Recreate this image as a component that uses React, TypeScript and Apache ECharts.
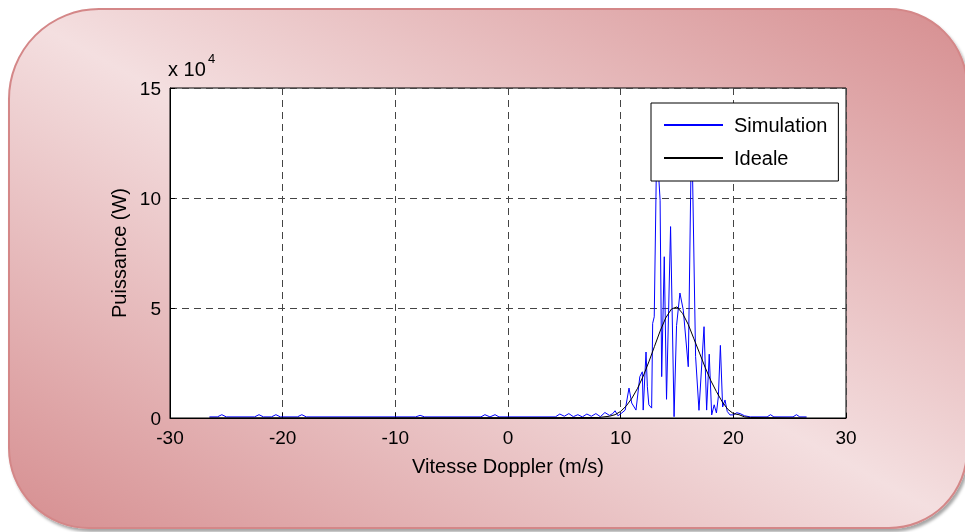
import React, { useEffect, useRef } from "react";
import * as echarts from "echarts";

// Doppler velocity (m/s) vs power (x 10^4 W)
const simulationPoints: [number, number][] = [
  [-26.5, 0.05], [-25.8, 0.05], [-25.4, 0.15], [-25.0, 0.05], [-22.5, 0.05], [-22.1, 0.15],
  [-21.7, 0.05], [-21.0, 0.05], [-20.6, 0.15], [-20.2, 0.05], [-18.7, 0.05], [-18.3, 0.15],
  [-17.9, 0.05], [-8.2, 0.05], [-7.8, 0.12], [-7.4, 0.05], [-2.4, 0.05], [-2.05, 0.15],
  [-1.6, 0.05], [-1.15, 0.15], [-0.8, 0.05], [4.2, 0.05], [4.6, 0.18], [5.0, 0.08],
  [5.4, 0.2], [5.8, 0.06], [6.2, 0.15], [6.6, 0.05], [7.0, 0.18], [7.4, 0.08], [7.8, 0.2],
  [8.2, 0.06], [8.6, 0.25], [9.0, 0.12], [9.3, 0.2], [9.5, 0.33], [9.76, 0.1], [10.1, 0.23],
  [10.4, 0.36], [10.74, 1.36], [10.98, 0.68], [11.36, 0.36], [11.7, 1.88], [11.92, 2.1],
  [12.0, 0.36], [12.25, 3.0], [12.37, 1.42], [12.5, 0.6], [12.75, 0.45], [12.84, 4.3],
  [12.98, 4.6], [13.2, 12.5], [13.5, 9.9], [13.64, 1.88], [13.87, 7.33], [14.07, 0.85],
  [14.43, 8.7], [14.74, 0.06], [14.96, 4.2], [15.26, 5.68], [15.56, 4.9], [16.0, 2.33],
  [16.3, 13.5], [16.65, 2.8], [16.95, 0.35], [17.4, 4.15], [17.63, 0.36], [17.86, 2.9],
  [18.08, 0.14], [18.3, 0.6], [18.5, 0.23], [18.67, 0.97], [18.85, 3.3], [19.05, 0.5],
  [19.26, 0.82], [19.46, 0.3], [19.7, 0.14], [19.99, 0.14], [20.3, 0.24], [20.6, 0.2],
  [21.0, 0.1], [21.5, 0.05], [23.0, 0.05], [23.3, 0.15], [23.6, 0.05], [25.3, 0.05],
  [25.6, 0.15], [25.9, 0.05], [26.5, 0.05],
];

const idealPoints: [number, number][] = [
  [-26.5, 0], [8, 0.02], [9, 0.08], [9.5, 0.15], [10, 0.3], [10.5, 0.55], [11, 0.9],
  [11.5, 1.35], [12, 1.9], [12.5, 2.55], [13, 3.25], [13.5, 3.95], [14, 4.55], [14.5, 4.95],
  [15, 5.05], [15.5, 4.75], [16, 4.25], [16.5, 3.6], [17, 2.95], [17.5, 2.3], [18, 1.7],
  [18.5, 1.2], [19, 0.75], [19.5, 0.4], [20, 0.2], [20.5, 0.15], [21, 0.05], [21.5, 0.02],
  [26.5, 0],
];

const seriesNames = ["Simulation", "Ideale"];
const xLabel = "Vitesse Doppler (m/s)";
const yLabel = "Puissance (W)";

const FONT = "'Liberation Sans', Arial, sans-serif";

export default function App() {
  const ref = useRef<HTMLDivElement>(null);
  useEffect(() => {
    if (!ref.current) return;
    const chart = echarts.init(ref.current, undefined, { renderer: "svg" });
    chart.setOption({
      animation: false,
      textStyle: { fontFamily: FONT },
      graphic: [
        {
          type: "rect",
          z: -100,
          silent: true,
          shape: { x: 9, y: 9, width: 958, height: 519, r: [90, 78, 78, 80] },
          style: {
            fill: new echarts.graphic.LinearGradient(1, 0, 0, 1, [
              { offset: 0, color: "#d68e90" },
              { offset: 0.5, color: "#f4dfe0" },
              { offset: 1, color: "#d68e90" },
            ]),
            stroke: "#d48788",
            lineWidth: 2,
            shadowBlur: 3,
            shadowOffsetX: 2,
            shadowOffsetY: 3,
            shadowColor: "rgba(0,0,0,0.35)",
          },
        },
        {
          type: "text",
          z: 10,
          style: {
            text: "x 10",
            x: 168,
            y: 69,
            fontSize: 20,
            fontFamily: FONT,
            fill: "#000",
            verticalAlign: "middle",
          },
        },
        {
          type: "text",
          z: 10,
          style: {
            text: "4",
            x: 208,
            y: 58,
            fontSize: 13,
            fontFamily: FONT,
            fill: "#000",
            verticalAlign: "middle",
          },
        },
      ],
      grid: {
        left: 170,
        right: 119,
        top: 88,
        bottom: 114,
        show: true,
        backgroundColor: "#ffffff",
        borderColor: "#000",
        borderWidth: 1,
      },
      legend: {
        orient: "vertical",
        left: 651,
        top: 103,
        data: seriesNames,
        backgroundColor: "#ffffff",
        borderColor: "#000",
        borderWidth: 1,
        borderRadius: 0,
        padding: [12, 11, 13, 12],
        itemGap: 13,
        itemWidth: 59,
        itemHeight: 20,
        itemStyle: { opacity: 0, borderWidth: 0 },
        textStyle: { fontSize: 20, color: "#000", fontFamily: FONT, padding: [0, 0, 0, 6] },
        z: 20,
      },
      xAxis: {
        type: "value",
        min: -30,
        max: 30,
        interval: 10,
        name: xLabel,
        nameLocation: "middle",
        nameGap: 38,
        nameTextStyle: { fontSize: 20, color: "#000", fontFamily: FONT },
        axisLine: { show: true, onZero: false, lineStyle: { color: "#000", width: 1 } },
        axisTick: { show: true, inside: true, length: 5, lineStyle: { color: "#000" } },
        axisLabel: { fontSize: 19, color: "#000", margin: 10, fontFamily: FONT },
        splitLine: { show: true, lineStyle: { color: "#444", type: [7, 5], width: 1 } },
      },
      yAxis: {
        type: "value",
        min: 0,
        max: 15,
        interval: 5,
        name: yLabel,
        nameLocation: "middle",
        nameGap: 36,
        nameTextStyle: { fontSize: 20, color: "#000", fontFamily: FONT },
        axisLine: { show: true, onZero: false, lineStyle: { color: "#000", width: 1 } },
        axisTick: { show: true, inside: true, length: 5, lineStyle: { color: "#000" } },
        axisLabel: { fontSize: 19, color: "#000", margin: 9, fontFamily: FONT },
        splitLine: { show: true, lineStyle: { color: "#444", type: [7, 5], width: 1 } },
      },
      series: [
        {
          name: seriesNames[0],
          type: "line",
          data: simulationPoints,
          symbol: "none",
          lineStyle: { color: "#0000ff", width: 1 },
          itemStyle: { color: "#0000ff" },
          clip: true,
          z: 3,
        },
        {
          name: seriesNames[1],
          type: "line",
          data: idealPoints,
          symbol: "none",
          lineStyle: { color: "#000000", width: 1 },
          itemStyle: { color: "#000000" },
          clip: true,
          z: 4,
        },
      ],
    });
    return () => chart.dispose();
  }, []);
  return (
    <div
      ref={ref}
      style={{ position: "fixed", left: 0, top: 0, width: 965, height: 532 }}
    />
  );
}
